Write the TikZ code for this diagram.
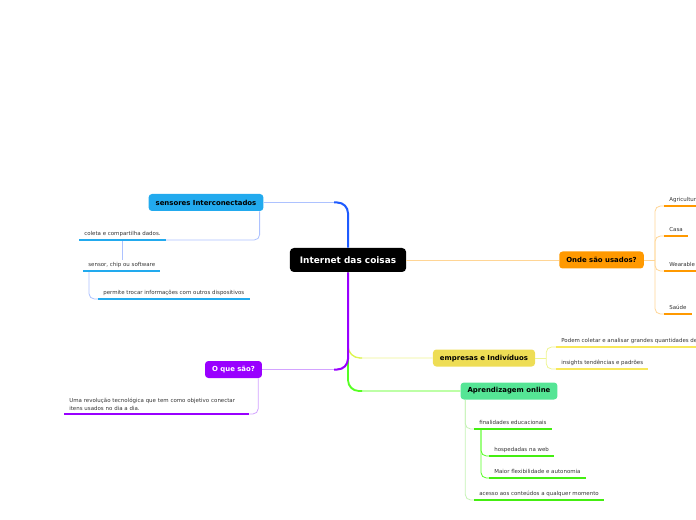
\documentclass[tikz,border=0pt]{standalone}
\usepackage{fontspec}
\setsansfont{DejaVu Sans}
\usetikzlibrary{positioning,calc}
\definecolor{mapBlue}{HTML}{22AAEE}
\definecolor{mapBlueLine}{HTML}{1E5BFF}
\definecolor{mapBlueLight}{HTML}{ADC2FF}
\definecolor{mapOrange}{HTML}{FF9900}
\definecolor{mapOrangeLight}{HTML}{FFD595}
\definecolor{mapYellow}{HTML}{EEDD55}
\definecolor{mapYellowBar}{HTML}{F8E85A}
\definecolor{mapYellowLine}{HTML}{DDF550}
\definecolor{mapYellowLight}{HTML}{EEF590}
\definecolor{mapPurple}{HTML}{9900FF}
\definecolor{mapPurpleLight}{HTML}{D3A3FF}
\definecolor{mapGreen}{HTML}{55E595}
\definecolor{mapGreenBar}{HTML}{44EE11}
\definecolor{mapGreenLine}{HTML}{55FF22}
\definecolor{mapGreenMid}{HTML}{99FF77}
\definecolor{mapGreenLight}{HTML}{C5F2B5}
\definecolor{mapText}{HTML}{333333}
\tikzset{
    root/.style={
        fill=black,
        text=white,
        rounded corners=3pt,
        minimum height=18pt,
        inner xsep=7.5pt,
        font=\sffamily\bfseries\fontsize{6.7}{8}\selectfont
    },
    topic/.style={
        rounded corners=2.5pt,
        minimum height=12.75pt,
        inner xsep=5.25pt,
        font=\sffamily\bfseries\fontsize{5.2}{6}\selectfont
    },
    subtopic/.style={
        anchor=south west,
        inner xsep=3.8pt,
        inner ysep=2pt,
        text height=3pt,
        text depth=1pt,
        text=mapText,
        font=\sffamily\fontsize{4.1}{6}\selectfont
    },
    bar/.style={
        line width=2.2pt
    },
    branch/.style={
        line width=1.5pt,
        rounded corners=8pt
    },
    twig/.style={
        line width=0.6pt,
        rounded corners=4pt
    }
}
\begin{document}
\begin{tikzpicture}[x=0.75pt, y=-0.75pt]
    \useasboundingbox (0,0) rectangle (696,520);
    \clip (0,0) rectangle (696,520);

    % Central topic and main topics
    \node[root] (root) at (348,260) {Internet das coisas};
    \node[topic, fill=mapBlue] (sens) at (206,202.5) {sensores Interconectados};
    \node[topic, fill=mapOrange] (onde) at (601.5,260) {Onde são usados?};
    \node[topic, fill=mapYellow] (emp) at (484,358) {empresas e Indivíduos};
    \node[topic, fill=mapPurple, text=white] (oque) at (233.5,369.5) {O que são?};
    \node[topic, fill=mapGreen] (apr) at (509,391) {Aprendizagem online};

    % Subtopics
    \node[subtopic] (coleta) at (79,240) {coleta e compartilha dados.};
    \node[subtopic] (chip) at (83,271) {sensor, chip ou software};
    \node[subtopic] (troca) at (98,299) {permite trocar informações com outros dispositivos};
    \node[subtopic] (agri) at (664,206) {Agricultura};
    \node[subtopic] (casa) at (664,236) {Casa};
    \node[subtopic] (wear) at (664,271) {Wearable};
    \node[subtopic] (saude) at (664,314) {Saúde};
    \node[subtopic] (dados) at (556,347) {Podem coletar e analisar grandes quantidades de dados};
    \node[subtopic] (insig) at (556,369) {insights tendências e padrões};
    \node[subtopic, align=left, text width=131pt, text height={}, text depth={}] (def) at (64,414)
        {Uma revolução tecnológica que tem como objetivo conectar\\itens usados no dia a dia.};
    \node[subtopic] (final) at (474,429) {finalidades educacionais};
    \node[subtopic] (hosp) at (489,456) {hospedadas na web};
    \node[subtopic] (flex) at (489,478) {Maior flexibilidade e autonomia};
    \node[subtopic] (acesso) at (474,500) {acesso aos conteúdos a qualquer momento};

    % Branches from the root
    \draw[twig, mapOrangeLight] (root.east) -- (onde.west);
    \draw[twig, mapYellowLight, rounded corners=9pt] (root.south) |- (emp.west);
    \draw[twig, mapYellowLine, line width=1pt, rounded corners=9pt] (root.south) |- ($(root.south |- emp.west)+(14,0)$);
    \draw[twig, mapGreenMid, line width=0.9pt, rounded corners=9pt] (root.south) |- (apr.west);
    \draw[branch, mapGreenLine, line width=1.3pt] (root.south) |- ($(root.south |- apr.west)+(14,0)$);
    \draw[twig, mapBlueLight, rounded corners=9pt] (root.north) |- (sens.east);
    \draw[branch, mapBlueLine] (root.north) |- ($(root.north |- sens.east)+(-14,0)$);
    \draw[twig, mapPurpleLight, rounded corners=9pt] (root.south) |- (oque.east);
    \draw[branch, mapPurple] (root.south) |- ($(root.south |- oque.east)+(-14,0)$);

    % Connections to the subtopics
    \draw[twig, mapBlueLight] ($(sens.south east)+(-4,0)$) |- (coleta.south east);
    \draw[twig, mapBlueLight] (coleta.south) -- (coleta.south |- chip.north);
    \draw[twig, mapBlueLight] ($(chip.south west)+(6,0)$) |- (troca.south west);
    \coordinate (ondeJ) at ($(onde.east)+(11,0)$);
    \draw[twig, mapOrangeLight] (onde.east) -- (ondeJ);
    \foreach \target in {agri, casa, wear, saude} {
        \draw[twig, mapOrangeLight] (ondeJ) |- (\target.south west);
    }
    \coordinate (empJ) at ($(emp.east)+(11,0)$);
    \draw[twig, mapYellowLight] (emp.east) -- (empJ);
    \foreach \target in {dados, insig} {
        \draw[twig, mapYellowLight] (empJ) |- (\target.south west);
    }
    \draw[twig, mapPurpleLight] ($(oque.south east)+(-4,0)$) |- (def.south east);
    \foreach \target in {final, acesso} {
        \draw[twig, mapGreenLight] ($(apr.south west)+(5,0)$) |- (\target.south west);
    }
    \foreach \target in {hosp, flex} {
        \draw[twig, mapGreenLine] ($(final.south west)+(7,0)$) |- (\target.south west);
    }

    % Underline bars
    \foreach \n/\c in {coleta/mapBlue, chip/mapBlue, troca/mapBlue,
        agri/mapOrange, casa/mapOrange, wear/mapOrange, saude/mapOrange,
        dados/mapYellowBar, insig/mapYellowBar, def/mapPurple,
        final/mapGreenBar, hosp/mapGreenBar, flex/mapGreenBar, acesso/mapGreenBar} {
        \draw[bar, \c] (\n.south west) -- (\n.south east);
    }
\end{tikzpicture}
\end{document}
